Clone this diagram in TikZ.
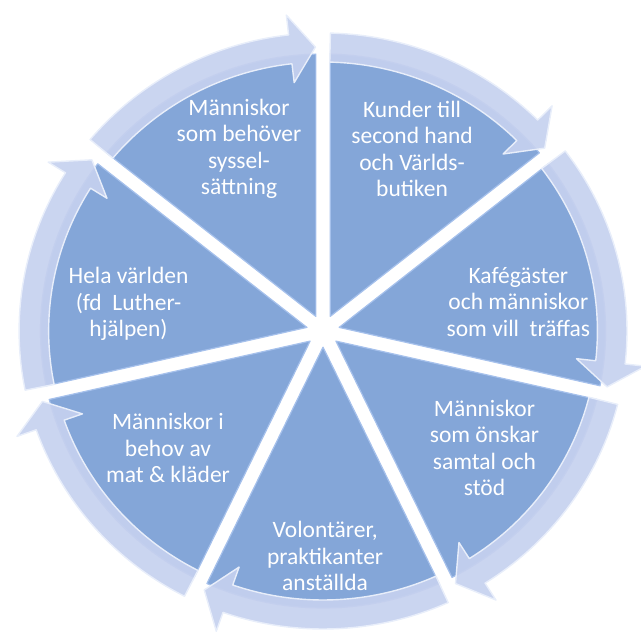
\documentclass[tikz,border=0pt]{standalone}
\usepackage{fontspec}
\setmainfont{Carlito}
\definecolor{segfill}{HTML}{84A6D8}
\definecolor{segedge}{HTML}{A6C1EC}
\definecolor{bandfill}{HTML}{C6D1EF}
\definecolor{bandedge}{HTML}{E8EEFA}
\tikzset{
  segment/.style={fill=segfill, draw=segedge, line width=1.2pt, line join=round},
  arrowband/.style={fill=bandfill, fill opacity=0.92, draw=bandedge, line width=1.4pt, line join=round},
  label/.style={text=white, align=center, font=\fontsize{23.5}{26.5}\selectfont, inner sep=0pt}
}
\begin{document}
\begin{tikzpicture}[x=1.02pt,y=1pt]
\useasboundingbox (-316.7,-311) rectangle (310.8,331);
\foreach \a in {115.714, 64.286, 12.857, -38.571, -90, -141.429, 167.143} {
  \pgfmathsetmacro\bl{\a-25.714+1.45}
  \pgfmathsetmacro\bh{\a+25.714-1.45}
  \path[segment] (\a:16.2) -- (\bl:277) arc[start angle=\bl, end angle=\bh, radius=277] -- cycle;
}
\foreach \a in {115.714, 64.286, 12.857, -38.571, -90, -141.429, 167.143} {
  \pgfmathsetmacro\tl{\a+25.714-1.4}
  \pgfmathsetmacro\tp{\a-25.714+1.5}
  \pgfmathsetmacro\hb{\a-25.714+6.5}
  \path[arrowband] (\tl:298) arc[start angle=\tl, end angle=\hb, radius=298]
    -- (\hb:318) -- (\tp:284) -- (\hb:250) -- (\hb:269)
    arc[start angle=\hb, end angle=\tl, radius=269] -- cycle;
}
\node[label] (t1) at (-82.4,182) {Människor\\som behöver\\syssel-\\sättning};
\node[label] (t2) at (87.3,182) {Kunder till\\second hand\\och Världs-\\butiken};
\node[label] (t3) at (191.5,29) {Kafégäster\\och människor\\som vill~ träffas};
\node[label] (t4) at (158.3,-117) {Människor\\som önskar\\samtal och\\stöd};
\node[label] (t5) at (2,-225) {Volontärer,\\praktikanter\\anställda};
\node[label] (t6) at (-152,-117) {Människor i\\behov av\\mat \& kläder};
\node[label] (t7) at (-190.7,27) {Hela världen\\(fd~ Luther-\\hjälpen)};
\end{tikzpicture}
\end{document}
